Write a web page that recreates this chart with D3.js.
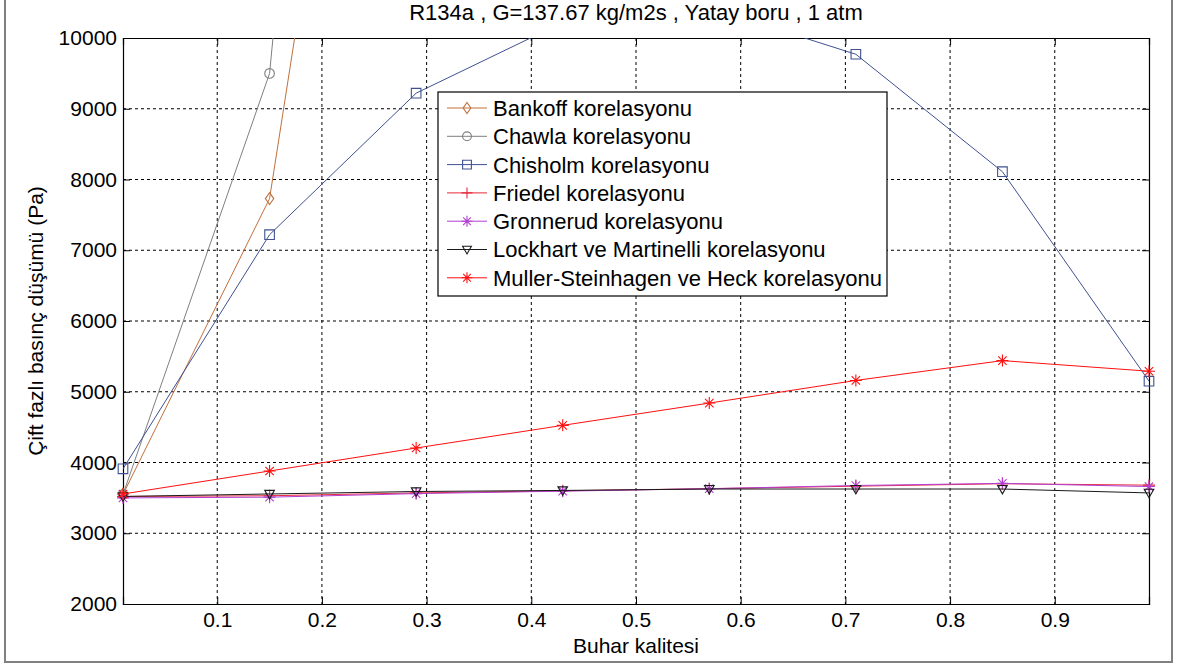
<!DOCTYPE html>
<html>
<head>
<meta charset="utf-8">
<script src="https://cdn.jsdelivr.net/npm/d3@7"></script>
<style>
  body { margin: 0; background: #fff; }
  text { font-family: "Liberation Sans", Arial, sans-serif; fill: #000; }
</style>
</head>
<body>
<div id="chart"></div>
<script>
const quality = [0.01, 0.15, 0.29, 0.43, 0.57, 0.71, 0.85, 0.99]
const xTicks = [0.1, 0.2, 0.3, 0.4, 0.5, 0.6, 0.7, 0.8, 0.9]
const yTicks = [2000, 3000, 4000, 5000, 6000, 7000, 8000, 9000, 10000]

// values above 10000 are off the picture, only the direction of the line is seen
const bankoff = [3550, 7730, 21000, 36000, 52000, 68000, 84000, 98000]
const chawla = [3550, 9500, 31000, 52000, 72000, 90000, 105000, 115000]
const chisholm = [3910, 7220, 9220, 10220, 10430, 9770, 8110, 5150]
const friedel = [3520, 3530, 3570, 3600, 3630, 3665, 3700, 3680]
const gronnerud = [3500, 3510, 3560, 3595, 3630, 3675, 3705, 3660]
const lockhart = [3520, 3555, 3590, 3605, 3625, 3625, 3625, 3570]
const muller = [3555, 3880, 4205, 4525, 4840, 5160, 5440, 5290]

const seriesNames = [
  'Bankoff korelasyonu',
  'Chawla korelasyonu',
  'Chisholm korelasyonu',
  'Friedel korelasyonu',
  'Gronnerud korelasyonu',
  'Lockhart ve Martinelli korelasyonu',
  'Muller-Steinhagen ve Heck korelasyonu'
]
const seriesValues = [bankoff, chawla, chisholm, friedel, gronnerud, lockhart, muller]
const seriesColors = ['#c0703c', '#7f7f7f', '#3f5190', '#e8283c', '#b33fd0', '#1a1a1a', '#ff1010']
const seriesMarkers = ['diamond', 'circle', 'square', 'plus', 'star', 'triangle', 'star']

const W = 1178, H = 666
const m = {left: 123, right: 1149, top: 38, bottom: 604}

const svg = d3.select('#chart').append('svg')
  .attr('width', W).attr('height', H)

svg.append('rect')
  .attr('x', 5).attr('y', -10).attr('width', 1167).attr('height', 672)
  .attr('fill', '#fff').attr('stroke', '#808080').attr('stroke-width', 2)

const x = d3.scaleLinear().domain([0.01, 0.99]).range([m.left, m.right])
const y = d3.scaleLinear().domain([2000, 10000]).range([m.bottom, m.top])

svg.append('defs').append('clipPath').attr('id', 'plotclip')
  .append('rect')
  .attr('x', m.left).attr('y', m.top)
  .attr('width', m.right - m.left).attr('height', m.bottom - m.top)

// grid
const grid = svg.append('g')
grid.selectAll('.gx').data(xTicks).enter().append('line')
  .attr('x1', d => x(d)).attr('x2', d => x(d))
  .attr('y1', m.top).attr('y2', m.bottom)
  .attr('stroke', '#000').attr('stroke-width', 1).attr('stroke-dasharray', '3,3')
grid.selectAll('.gy').data(yTicks.slice(1, -1)).enter().append('line')
  .attr('x1', m.left).attr('x2', m.right)
  .attr('y1', d => y(d)).attr('y2', d => y(d))
  .attr('stroke', '#000').attr('stroke-width', 1).attr('stroke-dasharray', '3,3')

// axes (ticks inward)
const xAxis = svg.append('g').attr('transform', `translate(0,${m.bottom})`)
  .call(d3.axisBottom(x).tickValues(xTicks).tickSize(-7).tickPadding(8).tickFormat(d3.format('.1f')))
const yAxis = svg.append('g').attr('transform', `translate(${m.left},0)`)
  .call(d3.axisLeft(y).tickValues(yTicks).tickSize(-7).tickPadding(6).tickFormat(d => d))
svg.append('g').attr('transform', `translate(0,${m.top})`)
  .call(d3.axisTop(x).tickValues(xTicks).tickSize(-7).tickFormat(''))
svg.append('g').attr('transform', `translate(${m.right},0)`)
  .call(d3.axisRight(y).tickValues(yTicks).tickSize(-7).tickFormat(''))

svg.selectAll('.domain').attr('stroke', '#000').attr('stroke-width', 1.2)
svg.selectAll('.tick line').attr('stroke', '#000')
svg.selectAll('.tick text').style('font-size', '21px').attr('fill', '#000')
xAxis.selectAll('.tick text').attr('dy', '0.71em')

function markerPath(type, s) {
  const r = s / 2
  if (type === 'diamond') return `M0,${-r}L${r * 0.7},0L0,${r}L${-r * 0.7},0Z`
  if (type === 'circle') return `M${r * 0.8},0A${r * 0.8},${r * 0.8} 0 1,1 ${-r * 0.8},0A${r * 0.8},${r * 0.8} 0 1,1 ${r * 0.8},0`
  if (type === 'square') return `M${-r * 0.8},${-r * 0.8}H${r * 0.8}V${r * 0.8}H${-r * 0.8}Z`
  if (type === 'plus') return `M${-r},0H${r}M0,${-r}V${r}`
  if (type === 'star') return `M${-r},0H${r}M0,${-r}V${r}M${-r * 0.7},${-r * 0.7}L${r * 0.7},${r * 0.7}M${-r * 0.7},${r * 0.7}L${r * 0.7},${-r * 0.7}`
  if (type === 'triangle') return `M${-r * 0.8},${-r * 0.6}H${r * 0.8}L0,${r * 0.8}Z`
  return ''
}

const line = d3.line().x((d, i) => x(quality[i])).y(d => y(d))

const series = svg.selectAll('.series')
  .data(seriesValues.map((vals, i) => ({name: seriesNames[i], vals: vals, color: seriesColors[i], marker: seriesMarkers[i]})))
  .enter().append('g').attr('class', 'series')

series.append('path')
  .attr('clip-path', 'url(#plotclip)')
  .attr('d', d => line(d.vals))
  .attr('fill', 'none')
  .attr('stroke', d => d.color)
  .attr('stroke-width', 1)

series.selectAll('.mk')
  .data(d => d.vals.map((v, i) => ({v: v, q: quality[i], color: d.color, marker: d.marker})).filter(p => p.v <= 10000))
  .enter().append('path')
  .attr('class', 'mk')
  .attr('transform', d => `translate(${x(d.q)},${y(d.v)})`)
  .attr('d', d => markerPath(d.marker, 12))
  .attr('fill', 'none')
  .attr('stroke', d => d.color)
  .attr('stroke-width', 1.1)

// legend
const lg = svg.append('g').attr('transform', 'translate(438,92)')
lg.append('rect').attr('width', 449).attr('height', 204)
  .attr('fill', '#fff').attr('stroke', '#000').attr('stroke-width', 1.2)
const item = lg.selectAll('.item')
  .data(seriesNames.map((n, i) => ({name: n, color: seriesColors[i], marker: seriesMarkers[i]})))
  .enter().append('g')
  .attr('transform', (d, i) => `translate(0,${16 + i * 28.3})`)
item.append('line').attr('x1', 9).attr('x2', 49)
  .attr('stroke', d => d.color).attr('stroke-width', 1)
item.append('path').attr('transform', 'translate(29,0)')
  .attr('d', d => markerPath(d.marker, 11))
  .attr('fill', 'none').attr('stroke', d => d.color).attr('stroke-width', 1.1)
item.append('text').attr('x', 55).attr('dy', '0.36em')
  .style('font-size', '22px').text(d => d.name)

// titles
svg.append('text').attr('x', (m.left + m.right) / 2).attr('y', 20)
  .attr('text-anchor', 'middle').style('font-size', '22px')
  .text('R134a , G=137.67 kg/m2s , Yatay boru , 1 atm')
svg.append('text').attr('x', (m.left + m.right) / 2).attr('y', 653)
  .attr('text-anchor', 'middle').style('font-size', '21px')
  .text('Buhar kalitesi')
svg.append('text')
  .attr('transform', `translate(36,${(m.top + m.bottom) / 2}) rotate(-90)`)
  .attr('text-anchor', 'middle').attr('dy', '0.35em').style('font-size', '21px')
  .text('Çift fazlı basınç düşümü (Pa)')
</script>
</body>
</html>
